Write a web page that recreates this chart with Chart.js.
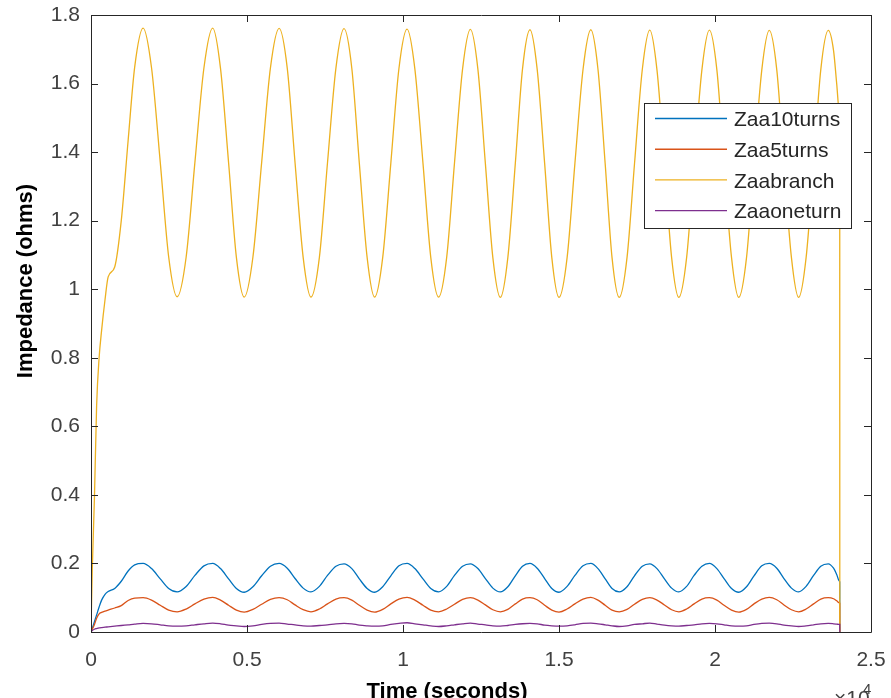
<!DOCTYPE html>
<html>
<head>
<meta charset="utf-8">
<script src="https://cdn.jsdelivr.net/npm/chart.js@4.4.1/dist/chart.umd.min.js"></script>
<style>
  html, body { margin: 0; padding: 0; background: #fff; overflow: hidden; }
  canvas { display: block; }
</style>
</head>
<body>
<canvas id="impedance-chart" width="891" height="720"></canvas>
<script>
// time in seconds (axis shows x10^4)
const timeSec = [0, 40, 110, 180, 260, 340, 450, 550, 760, 970, 1190, 1400, 1670,
  1940, 2220, 2490, 2760,  3050, 3330, 3620, 3900,
  4150, 4410, 4660, 4910,  5190, 5470, 5750, 6030,
  6290, 6540, 6800, 7050,  7320, 7580, 7850, 8110,
  8360, 8600, 8850, 9090,  9350, 9610, 9870, 10130,
  10380, 10640, 10890, 11140,  11400, 11650, 11910, 12160,
  12400, 12640, 12880, 13120,  13360, 13600, 13830, 14070,
  14300, 14540, 14770, 15000,  15260, 15510, 15770, 16020,
  16250, 16480, 16700, 16930,  17180, 17420, 17670, 17910,
  18140, 18380, 18610, 18840,  19090, 19330, 19580, 19820,
  20060, 20290, 20530, 20760,  21010, 21250, 21500, 21740,
  21980, 22210, 22450, 22680,  22920, 23160, 23390, 23630,
  23800, 23900, 23990, 23998, 24000];

const zaa10turns = [0, 0.010, 0.030, 0.050, 0.073, 0.093, 0.110, 0.118, 0.127, 0.148, 0.178, 0.196, 0.200,
  0.185, 0.155, 0.127, 0.117,  0.133, 0.165, 0.193, 0.200,
  0.185, 0.155, 0.127, 0.116,  0.132, 0.164, 0.192, 0.200,
  0.186, 0.156, 0.128, 0.117,  0.133, 0.165, 0.192, 0.199,
  0.185, 0.155, 0.127, 0.116,  0.132, 0.164, 0.193, 0.200,
  0.185, 0.155, 0.127, 0.117,  0.133, 0.165, 0.192, 0.199,
  0.185, 0.156, 0.128, 0.117,  0.132, 0.164, 0.192, 0.200,
  0.186, 0.156, 0.127, 0.116,  0.133, 0.165, 0.193, 0.200,
  0.185, 0.155, 0.127, 0.117,  0.132, 0.164, 0.192, 0.199,
  0.185, 0.155, 0.128, 0.117,  0.133, 0.165, 0.192, 0.200,
  0.185, 0.156, 0.127, 0.116,  0.132, 0.164, 0.193, 0.200,
  0.186, 0.156, 0.128, 0.117,  0.133, 0.165, 0.192, 0.199,
  0.186, 0.168, 0.148, 0.146, 0];

const zaa5turns = [0, 0.008, 0.022, 0.040, 0.053, 0.057, 0.061, 0.064, 0.070, 0.077, 0.092, 0.099, 0.100,
  0.093, 0.078, 0.064, 0.059,  0.067, 0.082, 0.096, 0.101,
  0.093, 0.078, 0.064, 0.058,  0.066, 0.081, 0.095, 0.100,
  0.094, 0.079, 0.065, 0.059,  0.067, 0.082, 0.096, 0.100,
  0.093, 0.078, 0.064, 0.058,  0.066, 0.082, 0.096, 0.101,
  0.093, 0.078, 0.064, 0.059,  0.067, 0.081, 0.095, 0.100,
  0.093, 0.079, 0.065, 0.059,  0.066, 0.082, 0.096, 0.100,
  0.094, 0.078, 0.064, 0.058,  0.067, 0.082, 0.096, 0.101,
  0.093, 0.078, 0.064, 0.059,  0.066, 0.081, 0.095, 0.100,
  0.093, 0.079, 0.065, 0.059,  0.067, 0.082, 0.096, 0.100,
  0.093, 0.078, 0.064, 0.058,  0.066, 0.082, 0.096, 0.101,
  0.094, 0.079, 0.065, 0.059,  0.067, 0.082, 0.096, 0.100,
  0.097, 0.091, 0.085, 0.084, 0];

const zaabranch = [0, 0.18, 0.39, 0.66, 0.80, 0.88, 0.97, 1.036, 1.065, 1.20, 1.434, 1.648, 1.762,
  1.646, 1.370, 1.094, 0.978,  1.094, 1.370, 1.646, 1.762,
  1.645, 1.369, 1.093, 0.977,  1.094, 1.370, 1.645, 1.761,
  1.645, 1.369, 1.093, 0.977,  1.093, 1.369, 1.645, 1.760,
  1.644, 1.368, 1.093, 0.977,  1.093, 1.368, 1.644, 1.759,
  1.643, 1.368, 1.093, 0.977,  1.093, 1.368, 1.643, 1.758,
  1.642, 1.367, 1.092, 0.976,  1.092, 1.367, 1.642, 1.757,
  1.642, 1.367, 1.092, 0.976,  1.092, 1.367, 1.641, 1.757,
  1.641, 1.366, 1.092, 0.976,  1.092, 1.366, 1.641, 1.756,
  1.640, 1.366, 1.092, 0.976,  1.092, 1.366, 1.640, 1.756,
  1.640, 1.366, 1.092, 0.976,  1.092, 1.366, 1.640, 1.755,
  1.640, 1.366, 1.092, 0.976,  1.092, 1.366, 1.640, 1.755,
  1.696, 1.600, 1.515, 1.507, 0];

const zaaoneturn = [0, 0.004, 0.008, 0.010, 0.012, 0.013, 0.014, 0.015, 0.017, 0.019, 0.021, 0.023, 0.025,
  0.024, 0.021, 0.018, 0.017,  0.018, 0.021, 0.024, 0.026,
  0.024, 0.020, 0.018, 0.016,  0.018, 0.022, 0.025, 0.026,
  0.023, 0.021, 0.018, 0.017,  0.019, 0.021, 0.024, 0.025,
  0.024, 0.020, 0.018, 0.017,  0.018, 0.022, 0.025, 0.027,
  0.024, 0.021, 0.018, 0.016,  0.018, 0.021, 0.024, 0.026,
  0.023, 0.021, 0.018, 0.017,  0.019, 0.022, 0.024, 0.025,
  0.024, 0.020, 0.018, 0.017,  0.018, 0.021, 0.025, 0.026,
  0.024, 0.021, 0.018, 0.016,  0.018, 0.022, 0.024, 0.026,
  0.023, 0.020, 0.018, 0.017,  0.019, 0.021, 0.024, 0.025,
  0.024, 0.021, 0.018, 0.017,  0.018, 0.022, 0.025, 0.026,
  0.024, 0.020, 0.018, 0.016,  0.018, 0.021, 0.024, 0.025,
  0.024, 0.023, 0.022, 0.022, 0];

const seriesNames = ['Zaa10turns', 'Zaa5turns', 'Zaabranch', 'Zaaoneturn'];
const seriesColors = ['#0072BD', '#D95319', '#EDB120', '#7E2F8E'];

const xTickValues = [0, 5000, 10000, 15000, 20000, 25000];
const xTickLabels = ['0', '0.5', '1', '1.5', '2', '2.5'];
const yTickValues = [0, 0.2, 0.4, 0.6, 0.8, 1, 1.2, 1.4, 1.6, 1.8];
const yTickLabels = ['0', '0.2', '0.4', '0.6', '0.8', '1', '1.2', '1.4', '1.6', '1.8'];

const FONT = "'Liberation Sans', Arial, Helvetica, sans-serif";
const AXIS_COLOR = '#262626';

function toPoints(values) {
  return timeSec.map((t, i) => ({ x: t, y: values[i] }));
}

// matlab style box with inward ticks on all four sides
const boxPlugin = {
  id: 'boxPlugin',
  afterDatasetsDraw(chart) {
    const { ctx, chartArea: a, scales } = chart;
    const tl = 7;
    ctx.save();
    ctx.strokeStyle = AXIS_COLOR;
    ctx.lineWidth = 1;
    ctx.beginPath();
    ctx.rect(Math.round(a.left) + 0.5, Math.round(a.top) + 0.5,
             Math.round(a.right) - Math.round(a.left), Math.round(a.bottom) - Math.round(a.top));
    xTickValues.forEach(v => {
      const px = Math.round(scales.x.getPixelForValue(v)) + 0.5;
      ctx.moveTo(px, a.bottom); ctx.lineTo(px, a.bottom - tl);
      ctx.moveTo(px, a.top); ctx.lineTo(px, a.top + tl);
    });
    yTickValues.forEach(v => {
      const py = Math.round(scales.y.getPixelForValue(v)) + 0.5;
      ctx.moveTo(a.left, py); ctx.lineTo(a.left + tl, py);
      ctx.moveTo(a.right, py); ctx.lineTo(a.right - tl, py);
    });
    ctx.stroke();
    ctx.restore();
  }
};

// axis titles, exponent label and the boxed legend
const decorPlugin = {
  id: 'decorPlugin',
  afterDraw(chart) {
    const { ctx } = chart;
    ctx.save();
    ctx.fillStyle = '#000';
    ctx.font = 'bold 22px ' + FONT;
    ctx.textAlign = 'center';
    ctx.textBaseline = 'middle';
    ctx.save();
    ctx.translate(26, 281);
    ctx.rotate(-Math.PI / 2);
    ctx.fillText('Impedance (ohms)', 0, 0);
    ctx.restore();
    ctx.fillText('Time (seconds)', 447, 692);

    ctx.fillStyle = '#404040';
    ctx.textAlign = 'left';
    ctx.textBaseline = 'alphabetic';
    ctx.font = '21px ' + FONT;
    ctx.fillText('\u00d710', 834, 705);
    ctx.font = '15px ' + FONT;
    ctx.fillText('4', 863, 694);

    // legend
    const lx = 644, ly = 103, lw = 207, lh = 125;
    ctx.fillStyle = '#fff';
    ctx.fillRect(lx, ly, lw, lh);
    ctx.strokeStyle = AXIS_COLOR;
    ctx.lineWidth = 1;
    ctx.strokeRect(lx + 0.5, ly + 0.5, lw, lh);
    ctx.font = '21px ' + FONT;
    ctx.textBaseline = 'middle';
    chart.data.datasets.forEach((ds, i) => {
      const rowY = 118.5 + i * 30.7;
      ctx.strokeStyle = ds.borderColor;
      ctx.lineWidth = 1.4;
      ctx.beginPath();
      ctx.moveTo(655, rowY);
      ctx.lineTo(727, rowY);
      ctx.stroke();
      ctx.fillStyle = '#262626';
      ctx.fillText(ds.label, 734, rowY + 2);
    });
    ctx.restore();
  }
};

const datasets = [zaa10turns, zaa5turns, zaabranch, zaaoneturn].map((vals, i) => ({
  label: seriesNames[i],
  data: toPoints(vals),
  borderColor: seriesColors[i],
  backgroundColor: seriesColors[i],
  borderWidth: 1.3,
  pointRadius: 0,
  fill: false,
  cubicInterpolationMode: 'monotone',
  order: 4 - i
}));

const ctx = document.getElementById('impedance-chart').getContext('2d');
new Chart(ctx, {
  type: 'line',
  data: { datasets },
  options: {
    responsive: false,
    animation: false,
    devicePixelRatio: 1,
    layout: { padding: { left: 0, right: 20, top: 15, bottom: 0 } },
    plugins: {
      legend: { display: false },
      tooltip: { enabled: false }
    },
    scales: {
      x: {
        type: 'linear',
        min: 0,
        max: 25000,
        afterBuildTicks: s => { s.ticks = xTickValues.map(v => ({ value: v })); },
        afterFit: s => { s.height = 88; s.paddingLeft = 0; s.paddingRight = 0; },
        grid: { display: false, drawTicks: false },
        border: { display: false },
        ticks: {
          padding: 16,
          maxRotation: 0,
          color: '#404040',
          font: { family: FONT, size: 21 },
          callback: (v, i) => xTickLabels[i]
        }
      },
      y: {
        type: 'linear',
        min: 0,
        max: 1.8,
        afterBuildTicks: s => { s.ticks = yTickValues.map(v => ({ value: v })); },
        afterFit: s => { s.width = 91; s.paddingTop = 0; s.paddingBottom = 0; },
        grid: { display: false, drawTicks: false },
        border: { display: false },
        ticks: {
          padding: 11,
          color: '#404040',
          font: { family: FONT, size: 21 },
          callback: (v, i) => yTickLabels[i]
        }
      }
    }
  },
  plugins: [boxPlugin, decorPlugin]
});
</script>
</body>
</html>
